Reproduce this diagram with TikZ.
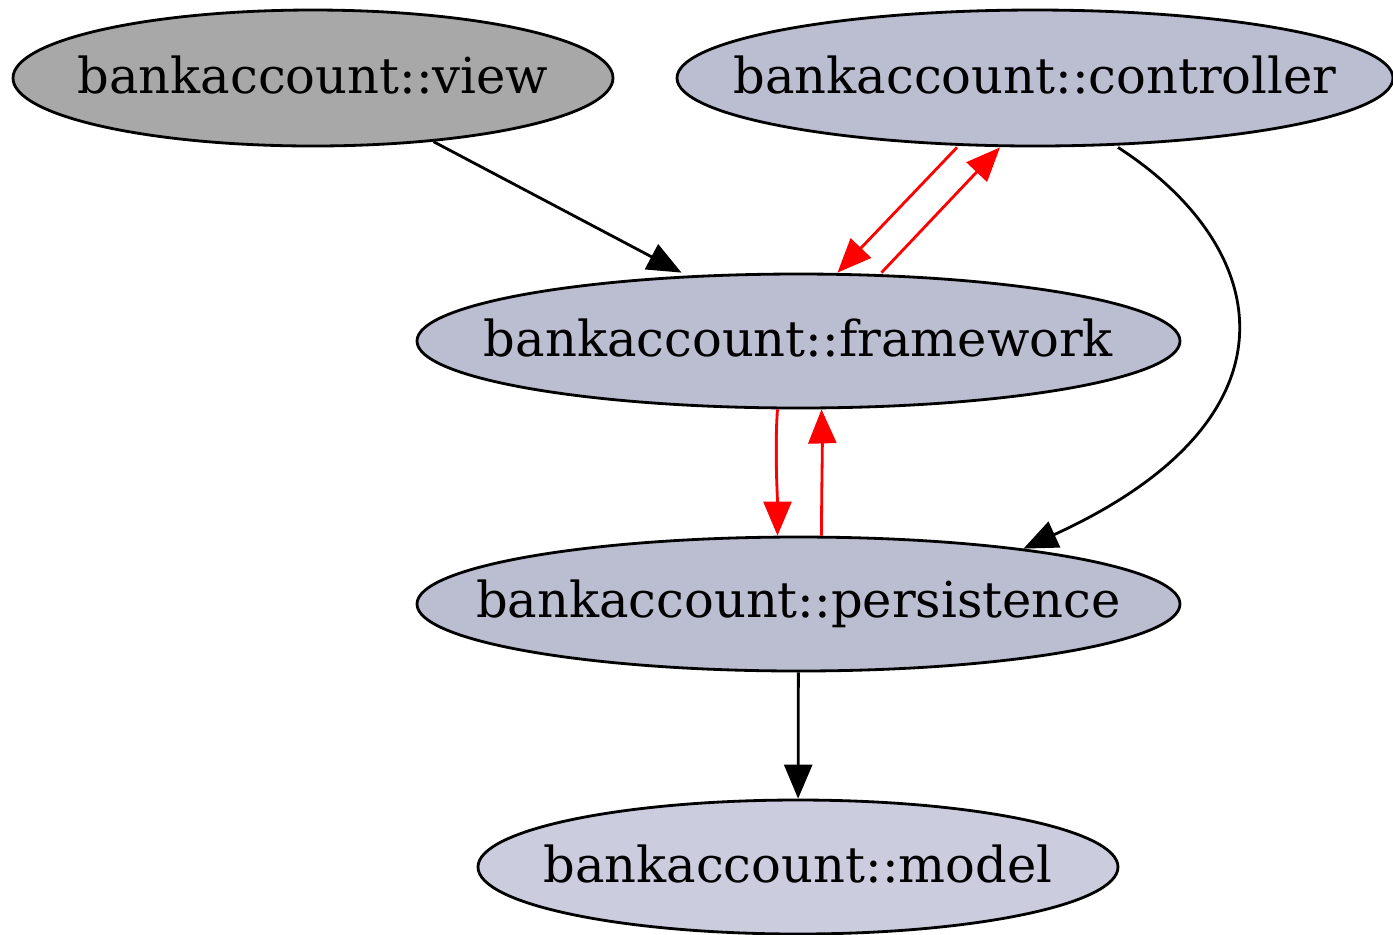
\documentclass[tikz,border=0pt]{standalone}
\usepackage{fontspec}
\setmainfont{DejaVu Serif}
\usetikzlibrary{shapes.geometric,arrows.meta}
\definecolor{pkggray}{HTML}{A8A8A8}
\definecolor{pkgblue}{HTML}{BBBDD0}
\definecolor{pkglight}{HTML}{CBCDDE}
\newcommand{\pkgname}[1]{\makebox[0pt]{\raisebox{0.06cm}{#1}}}
\tikzset{
  pkg/.style={ellipse, draw=black, line width=0.8pt, inner sep=0pt, font=\fontsize{14.1pt}{17pt}\selectfont},
  dep/.style={-{Triangle[length=0.34cm,width=0.28cm]}, line width=0.8pt},
  cyc/.style={dep, red, draw=red, fill=red}
}
\begin{document}
\begin{tikzpicture}

        \useasboundingbox (0,0) rectangle (13.93,-9.34);

        \node[pkg, fill=pkggray, minimum width=6.0cm, minimum height=1.36cm] (view) at (3.13,-0.78) {\pkgname{bankaccount::view}};
        \node[pkg, fill=pkgblue, minimum width=7.16cm, minimum height=1.36cm] (controller) at (10.35,-0.78) {\pkgname{bankaccount::controller}};
        \node[pkg, fill=pkgblue, minimum width=7.63cm, minimum height=1.34cm] (framework) at (7.985,-3.41) {\pkgname{bankaccount::framework}};
        \node[pkg, fill=pkgblue, minimum width=7.63cm, minimum height=1.34cm] (persistence) at (7.985,-6.04) {\pkgname{bankaccount::persistence}};
        \node[pkg, fill=pkglight, minimum width=6.40cm, minimum height=1.34cm] (model) at (7.98,-8.67) {\pkgname{bankaccount::model}};

        \draw[dep] (view) -- ([xshift=-1.17cm]framework.north);
        \draw[cyc] ([xshift=-0.78cm]controller.south) -- ([xshift=0.39cm]framework.north);
        \draw[cyc] ([xshift=0.83cm]framework.north) -- ([xshift=-0.35cm]controller.south);
        \draw[cyc] ([xshift=-0.21cm]framework.south) .. controls +(-0.03,-0.4) and +(0,0.4) .. ([xshift=-0.21cm]persistence.north);
        \draw[cyc] ([xshift=0.23cm]persistence.north) .. controls +(0,0.4) and +(0.01,-0.4) .. ([xshift=0.23cm]framework.south);
        \draw[dep] ([xshift=0.83cm]controller.south) .. controls +(1.55,-1.0) and +(2.85,1.3) .. ([xshift=2.25cm,yshift=-0.13cm]persistence.north);
        \draw[dep] (persistence) -- (model);

\end{tikzpicture}
\end{document}
